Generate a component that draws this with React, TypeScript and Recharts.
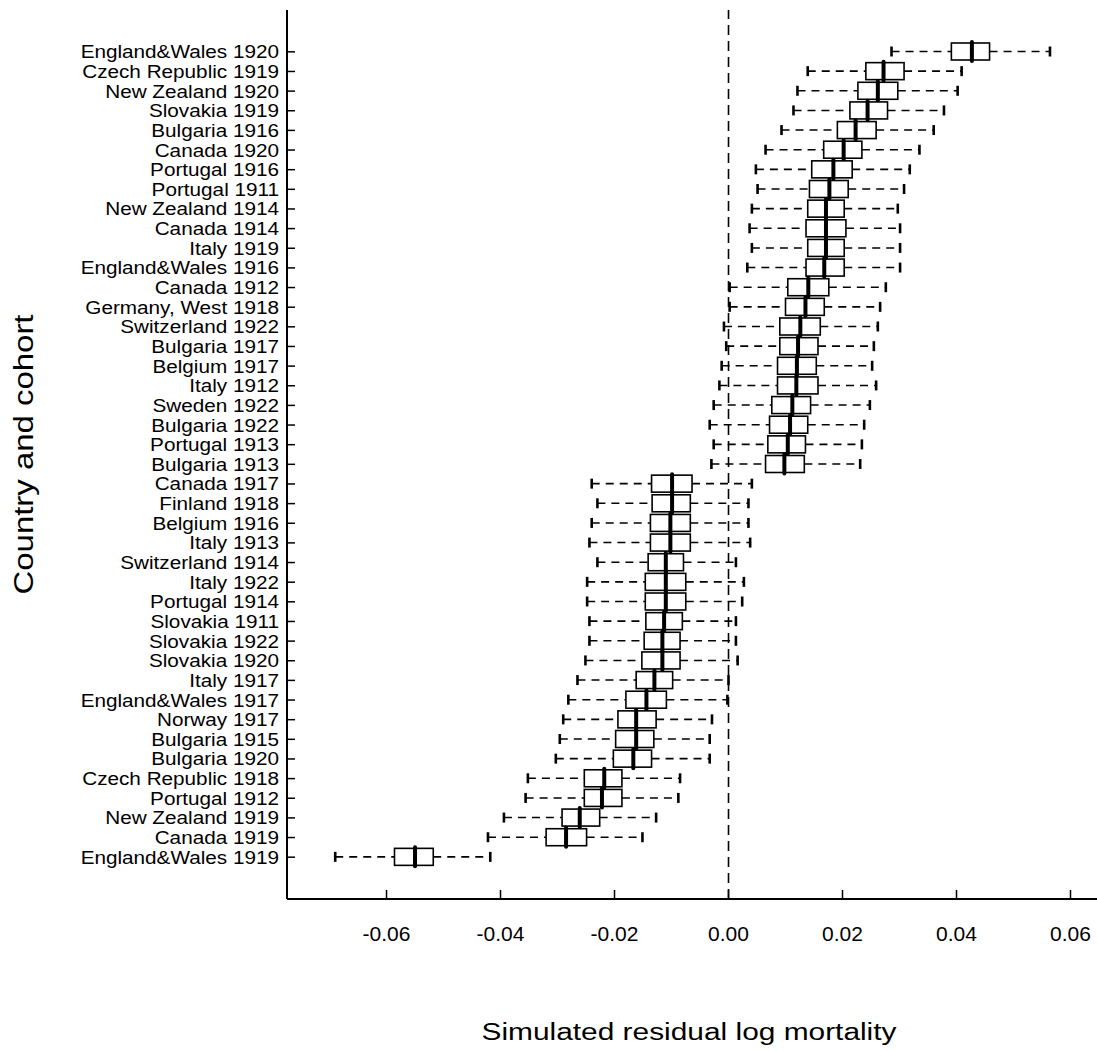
import React from 'react';
import { Bar, ComposedChart, Label, ReferenceLine, XAxis, YAxis } from 'recharts';

const names = [
  'England&Wales 1920', 'Czech Republic 1919', 'New Zealand 1920', 'Slovakia 1919', 'Bulgaria 1916',
  'Canada 1920', 'Portugal 1916', 'Portugal 1911', 'New Zealand 1914', 'Canada 1914', 'Italy 1919',
  'England&Wales 1916', 'Canada 1912', 'Germany, West 1918', 'Switzerland 1922', 'Bulgaria 1917',
  'Belgium 1917', 'Italy 1912', 'Sweden 1922', 'Bulgaria 1922', 'Portugal 1913', 'Bulgaria 1913',
  'Canada 1917', 'Finland 1918', 'Belgium 1916', 'Italy 1913', 'Switzerland 1914', 'Italy 1922',
  'Portugal 1914', 'Slovakia 1911', 'Slovakia 1922', 'Slovakia 1920', 'Italy 1917', 'England&Wales 1917',
  'Norway 1917', 'Bulgaria 1915', 'Bulgaria 1920', 'Czech Republic 1918', 'Portugal 1912',
  'New Zealand 1919', 'Canada 1919', 'England&Wales 1919',
];

// whisker low, lower quartile, median, upper quartile, whisker high
const low = [
  0.0286, 0.0139, 0.0121, 0.0114, 0.0093, 0.0065, 0.0048, 0.0051, 0.0041, 0.0037, 0.0041,
  0.0033, 0.0002, 0.0002, -0.0008, -0.0004, -0.0012, -0.0016, -0.0026, -0.0033, -0.0026, -0.003,
  -0.024, -0.023, -0.024, -0.0244, -0.023, -0.0248, -0.0248, -0.0244, -0.0244, -0.0251, -0.0265,
  -0.0281, -0.029, -0.0296, -0.0303, -0.0352, -0.0356, -0.0394, -0.0422, -0.069,
];
const q1 = [
  0.0391, 0.0241, 0.0227, 0.0213, 0.0191, 0.0167, 0.0146, 0.0142, 0.0139, 0.0136, 0.0139,
  0.0136, 0.0104, 0.01, 0.009, 0.009, 0.0086, 0.0086, 0.0076, 0.0072, 0.0069, 0.0065,
  -0.0135, -0.0134, -0.0137, -0.0137, -0.0141, -0.0146, -0.0146, -0.0145, -0.0148, -0.0152, -0.0162,
  -0.018, -0.0194, -0.0198, -0.0202, -0.0253, -0.0253, -0.0292, -0.032, -0.0586,
];
const median = [
  0.0427, 0.0272, 0.0262, 0.0244, 0.0223, 0.0202, 0.0184, 0.0177, 0.0171, 0.0171, 0.0171,
  0.0168, 0.014, 0.0135, 0.0126, 0.0122, 0.012, 0.0119, 0.0112, 0.0108, 0.0104, 0.0098,
  -0.0099, -0.0099, -0.0102, -0.0102, -0.011, -0.011, -0.011, -0.0113, -0.0116, -0.0116, -0.013,
  -0.0144, -0.0162, -0.0162, -0.0167, -0.0218, -0.0222, -0.0261, -0.0285, -0.055,
];
const q3 = [
  0.0458, 0.0308, 0.0297, 0.0279, 0.0259, 0.0234, 0.0217, 0.021, 0.0203, 0.0206, 0.0203,
  0.0203, 0.0176, 0.0168, 0.0161, 0.0157, 0.0154, 0.0157, 0.0144, 0.0139, 0.0135, 0.0133,
  -0.0064, -0.0067, -0.0067, -0.0067, -0.0079, -0.0075, -0.0075, -0.0081, -0.0085, -0.0085, -0.0098,
  -0.0109, -0.0127, -0.0131, -0.0135, -0.0187, -0.0187, -0.0226, -0.0249, -0.0518,
];
const high = [
  0.0564, 0.0409, 0.0402, 0.0378, 0.036, 0.0335, 0.0318, 0.0308, 0.0297, 0.0301, 0.0301,
  0.0301, 0.0276, 0.0266, 0.0262, 0.0255, 0.0252, 0.0259, 0.0248, 0.0238, 0.0234, 0.0231,
  0.0041, 0.0035, 0.0035, 0.0038, 0.0013, 0.0027, 0.0024, 0.0013, 0.0013, 0.0016, 0.0,
  -0.0002, -0.0029, -0.0033, -0.0033, -0.0085, -0.0088, -0.0127, -0.0151, -0.0418,
];

const xTicks = [-0.06, -0.04, -0.02, 0, 0.02, 0.04, 0.06];

const rows = names.map((name, i) => ({
  name,
  low: low[i],
  q1: q1[i],
  median: median[i],
  q3: q3[i],
  high: high[i],
}));

const FONT = '"Liberation Sans", Arial, Helvetica, sans-serif';

const BoxShape = (props: any) => {
  const { x, y, width, height, payload } = props;
  if (x == null || payload == null) return null;
  const cy = y + height / 2;
  const span = payload.high - payload.low;
  const px = (v: number) => x + ((v - payload.low) / span) * width;
  const xl = px(payload.low);
  const x1 = px(payload.q1);
  const xm = px(payload.median);
  const x3 = px(payload.q3);
  const xh = px(payload.high);
  return (
    <g>
      <line x1={xl} y1={cy} x2={x1} y2={cy} stroke="#000" strokeWidth={1.6} strokeDasharray="8 6" />
      <line x1={x3} y1={cy} x2={xh} y2={cy} stroke="#000" strokeWidth={1.6} strokeDasharray="8 6" />
      <line x1={xl} y1={cy - 5} x2={xl} y2={cy + 5} stroke="#000" strokeWidth={2.6} />
      <line x1={xh} y1={cy - 5} x2={xh} y2={cy + 5} stroke="#000" strokeWidth={2.6} />
      <rect x={x1} y={cy - 8.5} width={x3 - x1} height={17} fill="#fff" stroke="#000" strokeWidth={1.6} />
      <line x1={xm} y1={cy - 9.5} x2={xm} y2={cy + 9.5} stroke="#000" strokeWidth={4} strokeLinecap="round" />
    </g>
  );
};

const YTick = (props: any) => {
  const { x, y, payload } = props;
  return (
    <g>
      <line x1={x + 8} y1={y} x2={x + 16} y2={y} stroke="#000" strokeWidth={1.5} />
      <g transform={`translate(${x},${y}) scale(1.12,1)`}>
        <text x={0} y={6.5} textAnchor="end" fontSize={18.5} fontFamily={FONT} fill="#000">
          {payload.value}
        </text>
      </g>
    </g>
  );
};

const XTick = (props: any) => {
  const { x, y, payload } = props;
  return (
    <g>
      <line x1={x} y1={y} x2={x} y2={y - 9} stroke="#000" strokeWidth={1.5} />
      <text x={x} y={y + 42} textAnchor="middle" fontSize={21} fontFamily={FONT} fill="#000">
        {Number(payload.value).toFixed(2)}
      </text>
    </g>
  );
};

const XTitle = (props: any) => {
  const vb = props.viewBox;
  return (
    <text
      x={vb.x + vb.width / 2 - 3}
      y={vb.y + 141}
      textAnchor="middle"
      fontSize={23}
      fontFamily={FONT}
      textLength={415}
      lengthAdjust="spacingAndGlyphs"
      fill="#000"
    >
      Simulated residual log mortality
    </text>
  );
};

const YTitle = (props: any) => {
  const vb = props.viewBox;
  const cy = vb.y + vb.height / 2;
  return (
    <text
      x={33}
      y={cy}
      transform={`rotate(-90, 33, ${cy})`}
      textAnchor="middle"
      fontSize={27}
      fontFamily={FONT}
      textLength={280}
      lengthAdjust="spacingAndGlyphs"
      fill="#000"
    >
      Country and cohort
    </text>
  );
};

const domain: [number, number] = [-0.07746, 0.06465];

const App: React.FC = () => (
  <div style={{ position: 'absolute', left: 0, top: 0, width: 1097, height: 1051, background: '#fff' }}>
    <ComposedChart
      width={1097}
      height={1051}
      data={rows}
      layout="vertical"
      margin={{ top: 10, right: 0, bottom: 0, left: 0 }}
    >
      <XAxis
        type="number"
        domain={domain}
        allowDataOverflow
        ticks={xTicks}
        interval={0}
        height={152}
        tickLine={false}
        tickSize={0}
        tickMargin={0}
        axisLine={{ stroke: '#000', strokeWidth: 2 }}
        tick={<XTick />}
      >
        <Label content={<XTitle />} />
      </XAxis>
      <XAxis
        xAxisId="top"
        orientation="top"
        type="number"
        domain={domain}
        allowDataOverflow
        height={0}
        tick={false}
        tickLine={false}
        axisLine={{ stroke: '#000', strokeWidth: 2 }}
      />
      <YAxis
        type="category"
        dataKey="name"
        width={287}
        interval={0}
        padding={{ top: 32, bottom: 32 }}
        tickLine={false}
        tickSize={0}
        tickMargin={8}
        axisLine={{ stroke: '#000', strokeWidth: 2 }}
        tick={<YTick />}
      >
        <Label content={<YTitle />} />
      </YAxis>
      <ReferenceLine x={0} stroke="#000" strokeWidth={1.6} strokeDasharray="10 6" />
      <Bar
        dataKey={(d: any) => [d.low, d.high]}
        barSize={17}
        isAnimationActive={false}
        shape={(p: any) => <BoxShape {...p} />}
      />
    </ComposedChart>
  </div>
);

export default App;
